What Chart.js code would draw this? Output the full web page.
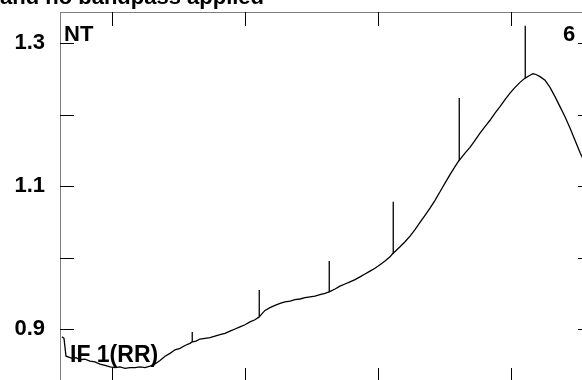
<!DOCTYPE html>
<html>
<head>
<meta charset="utf-8">
<script src="https://cdn.jsdelivr.net/npm/chart.js@4.4.1/dist/chart.umd.min.js"></script>
<style>
  body { margin: 0; overflow: hidden; background: #fff; }
  canvas { position: absolute; left: 0; top: 0; }
</style>
</head>
<body>
<canvas id="specChart" width="600" height="395"></canvas>
<script>
// channel positions and amplitude of the bandpass curve
const channels = [2, 4, 6, 8, 12, 16, 20, 25, 30, 35, 40, 45, 50, 55, 60, 65, 70, 75, 80, 85,
  90, 95, 100, 105, 110, 115, 120, 125, 130, 132, 136, 140, 145, 150, 155, 160, 165, 170, 175, 180,
  185, 190, 195, 199, 205, 210, 215, 220, 225, 230, 235, 240, 245, 250, 255, 260, 265, 269, 275, 280,
  285, 290, 295, 300, 305, 310, 315, 320, 325, 330, 333, 340, 345, 350, 355, 360, 365, 370, 375, 380,
  385, 390, 395, 399, 405, 410, 415, 420, 425, 430, 435, 440, 445, 450, 455, 460, 465, 470, 473, 476,
  480, 485, 490, 495, 500, 505, 510, 515, 520, 525, 530];
const amplitude = [0.889, 0.887, 0.862, 0.861, 0.859, 0.860, 0.857, 0.858, 0.855, 0.854, 0.851, 0.849, 0.847, 0.846, 0.847, 0.845, 0.846, 0.846, 0.847, 0.846,
  0.848, 0.851, 0.856, 0.862, 0.866, 0.871, 0.873, 0.877, 0.880, 0.882, 0.883, 0.886, 0.887, 0.888, 0.890, 0.892, 0.894, 0.897, 0.900, 0.903,
  0.906, 0.910, 0.913, 0.917, 0.926, 0.930, 0.933, 0.936, 0.938, 0.939, 0.941, 0.942, 0.944, 0.945, 0.946, 0.948, 0.950, 0.952, 0.956, 0.960,
  0.963, 0.966, 0.969, 0.973, 0.977, 0.981, 0.985, 0.990, 0.995, 1.001, 1.006, 1.015, 1.022, 1.030, 1.039, 1.049, 1.059, 1.069, 1.080, 1.092,
  1.104, 1.116, 1.127, 1.136, 1.146, 1.154, 1.164, 1.174, 1.183, 1.192, 1.202, 1.211, 1.221, 1.230, 1.238, 1.245, 1.251, 1.255, 1.257, 1.256,
  1.253, 1.248, 1.238, 1.225, 1.211, 1.197, 1.181, 1.164, 1.147, 1.132, 1.115];

// narrow spikes (channel, peak value)
const spikeChannels = [132, 199, 269, 333, 399, 465];
const spikePeaks = [0.896, 0.9545, 0.995, 1.078, 1.223, 1.324];

const xTicks = [51.5, 185, 317.5, 450.5];
const yTicks = [0.9, 1.0, 1.1, 1.2, 1.3];
const yLabels = [0.9, 1.1, 1.3];

// build points, spike = go up and back down at the same channel
const points = [];
channels.forEach((c, i) => {
  points.push({x: c, y: amplitude[i]});
  const s = spikeChannels.indexOf(c);
  if (s >= 0) {
    points.push({x: c, y: spikePeaks[s]});
    points.push({x: c + 0.5, y: amplitude[i]});
  }
});

const FONT = 'bold 22px "Liberation Sans", Arial, sans-serif';

const framePlugin = {
  id: 'frame',
  afterDraw(chart) {
    const {ctx, chartArea: a, scales: {x, y}} = chart;
    ctx.save();
    // frame
    ctx.strokeStyle = '#808080';
    ctx.lineWidth = 1;
    ctx.beginPath();
    ctx.moveTo(a.left, a.top + 0.5); ctx.lineTo(a.right, a.top + 0.5);
    ctx.moveTo(a.right - 0.5, a.top); ctx.lineTo(a.right - 0.5, a.bottom);
    ctx.moveTo(a.left, a.bottom - 0.5); ctx.lineTo(a.right, a.bottom - 0.5);
    ctx.stroke();
    // inward ticks
    ctx.strokeStyle = '#000';
    ctx.beginPath();
    xTicks.forEach(v => {
      const px = Math.round(x.getPixelForValue(v)) + 0.5;
      ctx.moveTo(px, a.top); ctx.lineTo(px, a.top + 14);
      ctx.moveTo(px, a.bottom); ctx.lineTo(px, a.bottom - 13);
    });
    yTicks.forEach(v => {
      const py = Math.round(y.getPixelForValue(v)) + 0.5;
      ctx.moveTo(a.left, py); ctx.lineTo(a.left + 14, py);
      ctx.moveTo(a.right, py); ctx.lineTo(a.right - 14, py);
    });
    ctx.stroke();
    // text labels
    ctx.fillStyle = '#000';
    ctx.font = FONT;
    ctx.textBaseline = 'alphabetic';
    ctx.textAlign = 'left';
    ctx.fillText('and no bandpass applied', 0, 4);
    ctx.fillText('NT', 64, 41);
    ctx.fillText('6', 563, 41);
    ctx.font = 'bold 23px "Liberation Sans", Arial, sans-serif';
    ctx.fillText('IF 1(RR)', 70, 362);
    ctx.restore();
  }
};

new Chart(document.getElementById('specChart'), {
  type: 'scatter',
  data: {
    datasets: [{
      data: points,
      showLine: true,
      borderColor: '#000',
      borderWidth: 1.3,
      pointRadius: 0,
      tension: 0
    }]
  },
  options: {
    responsive: false,
    animation: false,
    events: [],
    layout: {padding: {left: 0, top: 12, right: 8, bottom: 14}},
    plugins: {legend: {display: false}, tooltip: {enabled: false}},
    scales: {
      x: {
        type: 'linear',
        display: false,
        min: 0,
        max: 532
      },
      y: {
        type: 'linear',
        min: 0.8273,
        max: 1.3434,
        grid: {display: false, drawTicks: false},
        border: {display: true, color: '#808080', width: 1},
        afterBuildTicks: s => { s.ticks = yTicks.map(v => ({value: v})); },
        afterFit: s => { s.width = 60; s.paddingTop = 0; s.paddingBottom = 0; },
        ticks: {
          padding: 15,
          color: '#000',
          font: {family: '"Liberation Sans", Arial, sans-serif', size: 22, weight: 'bold'},
          callback: v => yLabels.some(l => Math.abs(l - v) < 1e-6) ? v.toFixed(1) : ''
        }
      }
    }
  },
  plugins: [framePlugin]
});
</script>
</body>
</html>
